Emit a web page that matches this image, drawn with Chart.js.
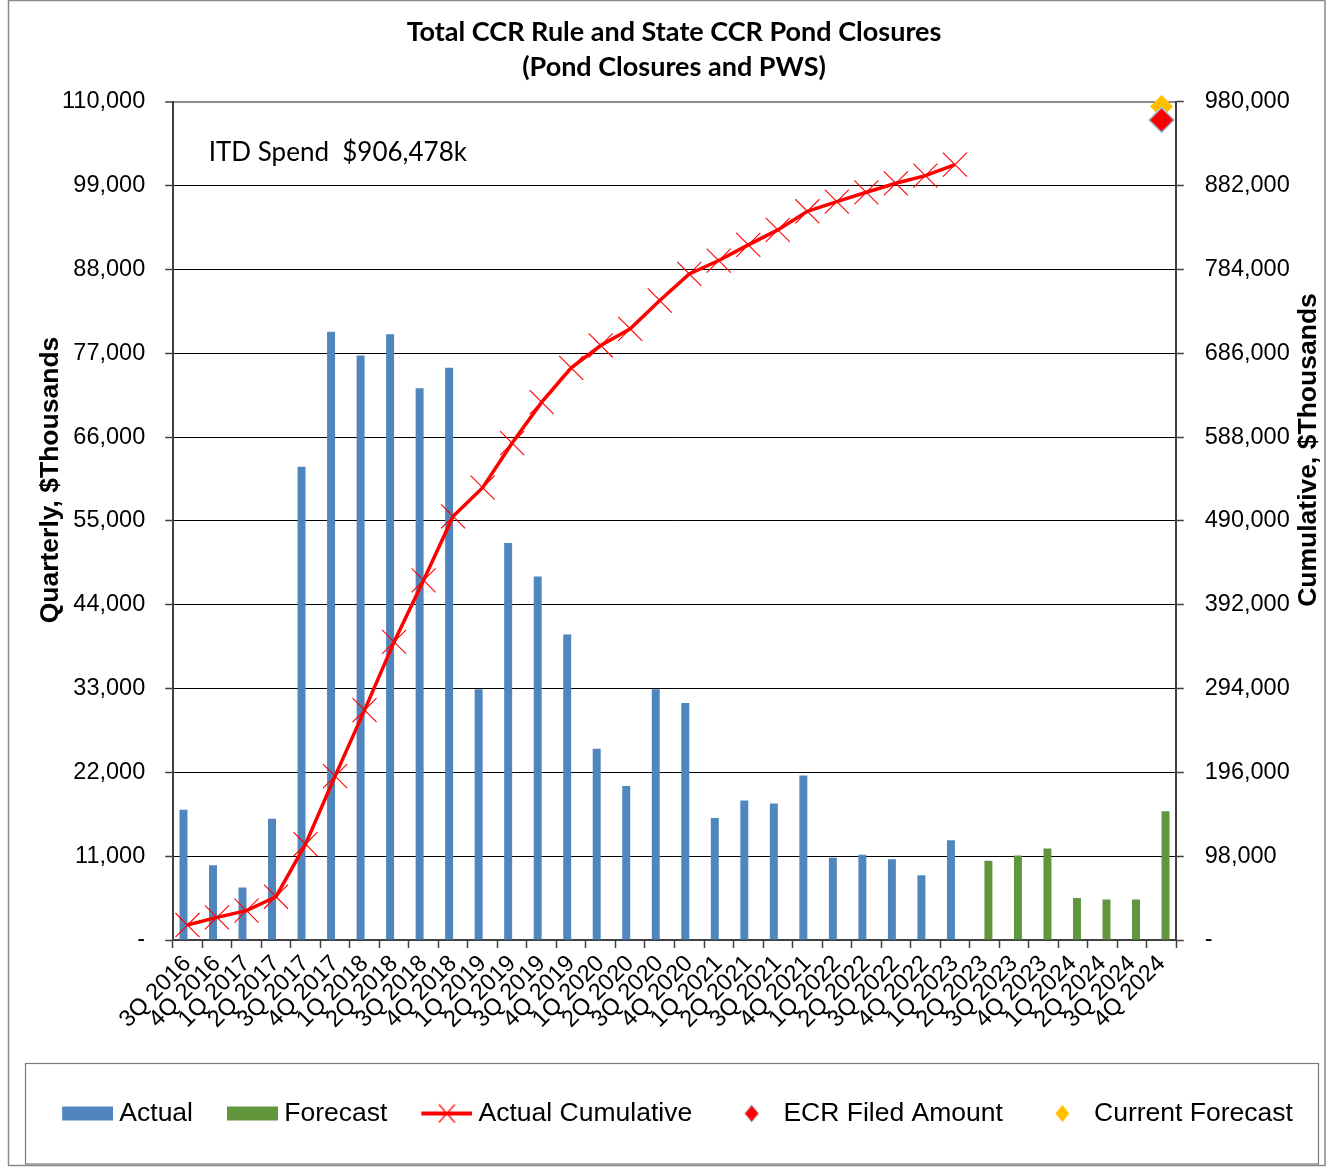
<!DOCTYPE html>
<html><head><meta charset="utf-8">
<script src="https://cdn.jsdelivr.net/npm/chart.js@4/dist/chart.umd.min.js"></script>
<style>html,body{margin:0;padding:0;background:#fff;}canvas{display:block;}</style>
</head><body>
<canvas id="c" width="1331" height="1169"></canvas>
<script>
const categories = ['3Q 2016','4Q 2016','1Q 2017','2Q 2017','3Q 2017','4Q 2017','1Q 2018','2Q 2018','3Q 2018','4Q 2018',
  '1Q 2019','2Q 2019','3Q 2019','4Q 2019','1Q 2020','2Q 2020','3Q 2020','4Q 2020','1Q 2021','2Q 2021','3Q 2021','4Q 2021',
  '1Q 2022','2Q 2022','3Q 2022','4Q 2022','1Q 2023','2Q 2023','3Q 2023','4Q 2023','1Q 2024','2Q 2024','3Q 2024','4Q 2024'];
const actualQuarterly = [17100, 9800, 6900, 15900, 62100, 79800, 76700, 79500, 72400, 75100, 32900, 52100, 47700, 40100,
  25100, 20200, 32900, 31100, 16000, 18300, 17900, 21600, 10800, 11200, 10600, 8500, 13100];
const forecastQuarterly = [10400, 11100, 12000, 5500, 5300, 5300, 16900];
const actualCumulative = [17500, 26500, 34300, 50600, 112100, 191600, 268700, 348500, 420500, 495300, 528800, 580900,
  628800, 668900, 695000, 714500, 747600, 778700, 794300, 812600, 830100, 851900, 863200, 874100, 884600, 893600, 906478];
const ecrFiledAmount = 958600;
const currentForecastTotal = 974500;
const leftAxisTicks = [0, 11000, 22000, 33000, 44000, 55000, 66000, 77000, 88000, 99000, 110000];
const rightAxisTicks = [0, 98000, 196000, 294000, 392000, 490000, 588000, 686000, 784000, 882000, 980000];
const itdSpendText = 'ITD Spend  $906,478k';

const BLUE = '#4F86BE', GREEN = '#62963C', RED = '#FF0000', YELLOW = '#FFC000';
const n = categories.length;
const fStart = n - forecastQuarterly.length;
const actualData = categories.map((c, i) => i < actualQuarterly.length ? actualQuarterly[i] : null);
const forecastData = categories.map((c, i) => i >= fStart ? forecastQuarterly[i - fStart] : null);
const cumData = categories.map((c, i) => i < actualCumulative.length ? actualCumulative[i] : null);
const ecrData = categories.map((c, i) => i === n - 1 ? ecrFiledAmount : null);
const curData = categories.map((c, i) => i === n - 1 ? currentForecastTotal : null);

function marker(kind, color) {
  const cv = document.createElement('canvas');
  cv.width = 65; cv.height = 22;
  const g = cv.getContext('2d');
  const x0 = 14, cx = 14 + 25.5, cy = 11;
  if (kind === 'bar') { g.fillStyle = color; g.fillRect(x0, 4, 51, 14); }
  else if (kind === 'line') {
    g.strokeStyle = color; g.lineWidth = 4; g.beginPath(); g.moveTo(x0, cy); g.lineTo(x0 + 51, cy); g.stroke();
    g.lineWidth = 1.2; g.beginPath(); g.moveTo(cx - 8, cy - 9); g.lineTo(cx + 8, cy + 9); g.moveTo(cx + 8, cy - 9); g.lineTo(cx - 8, cy + 9); g.stroke();
  } else {
    g.fillStyle = color; g.beginPath(); g.moveTo(cx, cy - 8.5); g.lineTo(cx + 7, cy); g.lineTo(cx, cy + 8.5); g.lineTo(cx - 7, cy); g.closePath(); g.fill();
    if (kind === 'diamondB') { g.strokeStyle = '#9DC3E6'; g.lineWidth = 1; g.stroke(); }
  }
  return cv;
}
const legendItems = [
  {text: 'Actual', style: marker('bar', BLUE)},
  {text: 'Forecast', style: marker('bar', GREEN)},
  {text: 'Actual Cumulative', style: marker('line', RED)},
  {text: 'ECR Filed Amount', style: marker('diamondB', RED)},
  {text: 'Current Forecast', style: marker('diamond', YELLOW)}
];

const fmt = v => v === 0 ? '-' : v.toLocaleString('en-US');
const AX = '#404040';

const decor = {
  id: 'decor',
  beforeDraw(chart) {
    const ctx = chart.ctx;
    ctx.save();
    ctx.fillStyle = '#fff'; ctx.fillRect(0, 0, chart.width, chart.height);
    ctx.strokeStyle = '#8a8a8a'; ctx.lineWidth = 1.5;
    ctx.strokeRect(8.5, 0.5, 1316.5, 1165);
    ctx.strokeStyle = '#7a7a7a'; ctx.lineWidth = 1.2;
    ctx.strokeRect(25.5, 1063.5, 1293, 100.5);
    ctx.restore();
  },
  afterDraw(chart) {
    const ctx = chart.ctx;
    ctx.save();
    ctx.fillStyle = '#000';
    ctx.font = 'bold 26.5px "Liberation Sans", Arial, sans-serif';
    ctx.textAlign = 'center'; ctx.textBaseline = 'middle';
    ctx.save(); ctx.translate(51, 480); ctx.rotate(-Math.PI / 2); ctx.fillText('Quarterly, $Thousands', 0, 0); ctx.restore();
    ctx.save(); ctx.translate(1309, 450); ctx.rotate(-Math.PI / 2); ctx.fillText('Cumulative, $Thousands', 0, 0); ctx.restore();
    ctx.font = '26px Lato, "Open Sans", sans-serif';
    ctx.textAlign = 'left';
    ctx.fillText(itdSpendText, chart.chartArea.left + 36, 153);
    ctx.restore();
  }
};

const PL = 18, PR = 1, PB = 32.25;
new Chart(document.getElementById('c'), {
  data: {
    labels: categories,
    datasets: [
      {type: 'line', label: 'ECR Filed Amount', data: ecrData, yAxisID: 'y1', showLine: false, order: 0, clip: false,
        pointStyle: 'rectRot', pointRadius: 12.5, backgroundColor: RED, borderColor: '#9DC3E6', borderWidth: 1.5},
      {type: 'line', label: 'Current Forecast', data: curData, yAxisID: 'y1', showLine: false, order: 1, clip: false,
        pointStyle: 'rectRot', pointRadius: 11.5, backgroundColor: YELLOW, borderColor: YELLOW, borderWidth: 0},
      {type: 'line', label: 'Actual Cumulative', data: cumData, yAxisID: 'y1', order: 2, clip: false,
        borderColor: RED, borderWidth: 3.5, tension: 0, fill: false,
        pointStyle: 'crossRot', pointRadius: 17, pointBorderWidth: 1.1, pointBorderColor: RED, pointBackgroundColor: RED},
      {type: 'bar', label: 'Actual', data: actualData, yAxisID: 'y', order: 3, backgroundColor: BLUE,
        categoryPercentage: 0.54, barPercentage: 1.0, borderWidth: 0},
      {type: 'bar', label: 'Forecast', data: forecastData, yAxisID: 'y', order: 4, backgroundColor: GREEN,
        categoryPercentage: 0.54, barPercentage: 1.0, borderWidth: 0}
    ]
  },
  options: {
    responsive: false, animation: false, events: [], devicePixelRatio: 1,
    layout: {padding: {left: PL, right: PR, top: 0, bottom: PB}},
    plugins: {
      tooltip: {enabled: false},
      title: {display: true, text: ['Total CCR Rule and State CCR Pond Closures', '(Pond Closures and PWS)'],
        color: '#000', font: {family: 'Lato, "Open Sans", sans-serif', weight: 'bold', size: 27, lineHeight: 1.3},
        padding: {top: 15, bottom: 16.5}},
      legend: {position: 'bottom', align: 'center',
        labels: {usePointStyle: true, pointStyleWidth: 51, padding: 27, color: '#000',
          font: {family: '"Liberation Sans", Arial, sans-serif', size: 26.5},
          generateLabels: () => legendItems.map((it, i) => ({text: it.text, pointStyle: it.style, fillStyle: '#000',
            strokeStyle: '#000', lineWidth: 0, hidden: false, datasetIndex: i, fontColor: '#000'}))}}
    },
    scales: {
      x: {
        offset: true,
        grid: {offset: true, drawOnChartArea: false, drawTicks: true, tickLength: 8, tickColor: AX, tickWidth: 1.5},
        border: {display: true, color: AX, width: 2},
        ticks: {color: '#000', font: {family: '"Liberation Sans", Arial, sans-serif', size: 23.5},
          minRotation: 45, maxRotation: 45, autoSkip: false, padding: 2},
        afterFit(s) { s.height = 1169 - PB - 63.5 - 940; }
      },
      y: {
        position: 'left', min: 0, max: 110000,
        afterBuildTicks(s) { s.ticks = leftAxisTicks.map(v => ({value: v})); },
        grid: {color: ctx => ctx.tick && ctx.tick.value === 110000 ? '#8c8c8c' : '#000',
          lineWidth: ctx => ctx.tick && ctx.tick.value === 110000 ? 2 : 1,
          tickLength: 7.5, tickColor: AX, tickWidth: 1.5, drawTicks: true},
        border: {display: true, color: AX, width: 2},
        ticks: {color: '#000', padding: 20, font: {family: '"Liberation Sans", Arial, sans-serif', size: 23.5}, callback: v => fmt(v)},
        afterFit(s) { s.width = 172.7 - PL; }
      },
      y1: {
        position: 'right', min: 0, max: 980000,
        afterBuildTicks(s) { s.ticks = rightAxisTicks.map(v => ({value: v})); },
        grid: {drawOnChartArea: false, tickLength: 7.5, tickColor: AX, tickWidth: 1.5, drawTicks: true},
        border: {display: true, color: AX, width: 2},
        ticks: {color: '#000', padding: 21, font: {family: '"Liberation Sans", Arial, sans-serif', size: 23.5}, callback: v => fmt(v)},
        afterFit(s) { s.width = 1331 - PR - 1176.3; }
      }
    }
  },
  plugins: [decor]
});
</script>
</body></html>
